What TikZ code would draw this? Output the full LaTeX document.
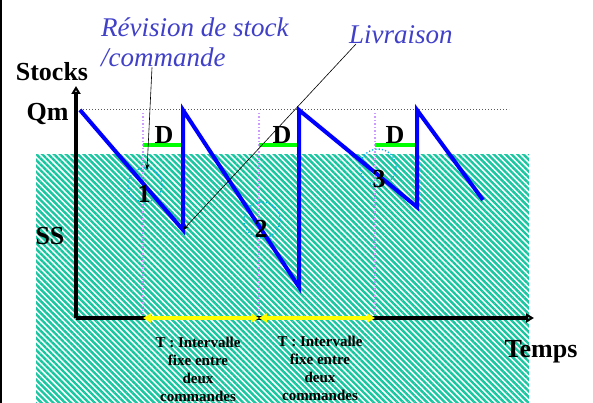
\documentclass[tikz,border=0pt]{standalone}
\usepackage{fontspec}
\setmainfont{Liberation Serif}
\usetikzlibrary{patterns.meta,arrows.meta}
\definecolor{hatch}{RGB}{24,198,160}
\definecolor{bluetxt}{RGB}{64,64,200}
\definecolor{violetdot}{RGB}{204,153,255}
\definecolor{grn}{RGB}{0,255,0}
\definecolor{yel}{RGB}{255,255,0}
\begin{document}
\begin{tikzpicture}[x=1pt,y=-1pt,
  lbl/.style={font=\fontsize{26}{30}\selectfont\bfseries, inner sep=0pt, anchor=base},
  note/.style={font=\fontsize{27}{30}\selectfont\itshape, text=bluetxt, inner sep=0pt, align=left},
  smalltxt/.style={font=\fontsize{15}{18}\selectfont\bfseries, align=center, inner sep=0pt, anchor=north},
  saw/.style={draw=blue, line width=4pt},
  greenbar/.style={draw=grn, line width=4pt},
  vdot/.style={draw=violetdot, dotted, line width=1.5pt},
  cdot/.style={draw=cyan, dotted, line width=1.3pt},
  axis/.style={draw=black, line width=4pt, -{Triangle[open,length=8pt,width=9pt]}},
  yarrow/.style={draw=yel, line width=4pt, {Triangle[length=8pt,width=9pt]}-{Triangle[length=8pt,width=9pt]}},
  lead/.style={draw=black, line width=0.6pt, -{Stealth[length=6pt,width=4pt]}}]
\useasboundingbox (0,0) rectangle (593,403);
\fill[white] (0,0) rectangle (593,403);
% hatched safety-stock zone
\pattern[pattern={Lines[angle=-45,distance=4.2pt,line width=2.4pt]}, pattern color=hatch] (36,155) rectangle (529,403);
% left border
\draw[line width=2pt] (1,0) -- (1,403);
% Qm level
\draw[gray!70!black, dotted, line width=1pt] (80,110) -- (509,110);
% review instants
\coordinate (r1) at (143,318);
\coordinate (r2) at (259,318);
\coordinate (r3) at (375,318);
\draw[vdot] (143,113) -- (r1);
\draw[vdot] (259,113) -- (r2);
\draw[vdot] (375,113) -- (r3);
% delay bars
\draw[greenbar] (143,145.5) -- (183,145.5);
\draw[greenbar] (259,145.5) -- (299,145.5);
\draw[greenbar] (375,145.5) -- (417,145.5);
\node[lbl] (d1) at (164,144) {D};
\node[lbl] (d2) at (282,144) {D};
\node[lbl] (d3) at (395,144) {D};
% circles
\draw[cdot] (145,185) circle[radius=17pt];
\draw[cdot] (262,220) circle[radius=18pt];
\draw[cdot] (378,167) circle[radius=18pt];
% sawtooth
\coordinate (low1) at (183,230);
\draw[saw] (80,110) -- (low1) -- (183,110) -- (299,287) -- (299,110) -- (417,207) -- (417,110) -- (483,200);
% axes
\coordinate (O) at (76,318);
\coordinate (ytip) at (76,86);
\coordinate (xtip) at (534,318);
\draw[axis] (O) -- (ytip);
\draw[axis] (O) -- (xtip);
% period arrows
\draw[yarrow] (r1) -- (r2);
\draw[yarrow] (r2) -- (r3);
% labels
\node[lbl] (stocks) at (52,81) {Stocks};
\node[lbl] (qm) at (47.5,121) {Qm};
\node[lbl] (ss) at (50,244) {SS};
\node[lbl] (temps) at (541,357) {Temps};
\node[lbl] (n1) at (144,203) {1};
\node[lbl] (n2) at (261,237) {2};
\node[lbl] (n3) at (379,187) {3};
\node[smalltxt] (t1) at (198,337) {T : Intervalle\\fixe entre\\deux\\commandes};
\node[smalltxt] (t2) at (320,336) {T : Intervalle\\fixe entre\\deux\\commandes};
% notes
\node[note, anchor=north west] (rev) at (101,18) {Révision de stock\\/commande};
\node[note, anchor=base west] (liv) at (349,44) {Livraison};
\coordinate (revpt) at (147,170);
\draw[lead] (rev.south -| 152,0) -- (revpt);
\draw[lead] ([xshift=7pt]liv.base west) -- (low1);
\end{tikzpicture}
\end{document}
